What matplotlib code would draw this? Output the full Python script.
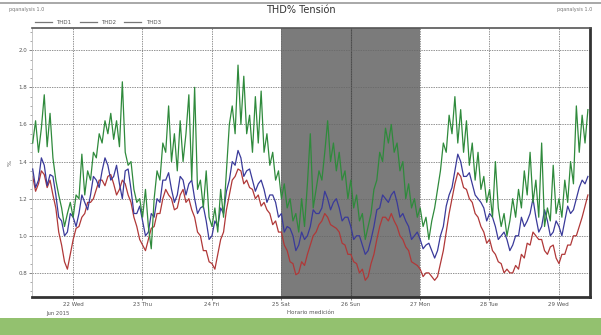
import numpy as np
import matplotlib
matplotlib.use("Agg")
import matplotlib.pyplot as plt
from matplotlib.ticker import MultipleLocator

# ---- data -------------------------------------------------------------
day_ticks = [22, 23, 24, 25, 26, 27, 28, 29]
day_labels = ["22 Wed", "23 Thu", "24 Fri", "25 Sat", "26 Sun", "27 Mon", "28 Tue", "29 Wed"]
weekend = (25, 27)
start_day = 21.42  # first sample (day of June 2015), hourly samples

# THD3 (green)
thd3 = [1.50, 1.62, 1.45, 1.58, 1.76, 1.48, 1.66, 1.42, 1.30, 1.22,
        1.15, 1.05, 1.12, 1.18, 1.10, 1.22, 1.20, 1.44, 1.22, 1.35,
        1.30, 1.45, 1.42, 1.55, 1.50, 1.62, 1.55, 1.66, 1.52, 1.62,
        1.48, 1.83, 1.45, 1.38, 1.40, 1.25, 1.18, 1.20, 1.10, 1.25,
        1.05, 0.93, 1.20, 1.35, 1.30, 1.50, 1.45, 1.70, 1.40, 1.55,
        1.35, 1.62, 1.40, 1.55, 1.76, 1.30, 1.80, 1.25, 1.30, 1.15,
        1.35, 1.10, 1.05, 1.15, 1.02, 1.25, 1.10, 1.35, 1.60, 1.70,
        1.55, 1.92, 1.60, 1.86, 1.55, 1.65, 1.45, 1.75, 1.50, 1.78,
        1.45, 1.55, 1.38, 1.45, 1.30, 1.35, 1.20, 1.28, 1.15, 1.20,
        1.08, 1.12, 1.02, 1.20, 1.05, 1.28, 1.55, 1.15, 1.25, 1.35,
        1.30, 1.45, 1.62, 1.40, 1.50, 1.35, 1.45, 1.30, 1.35, 1.20,
        1.30, 1.15, 1.22, 1.08, 1.12, 0.98, 1.05, 1.12, 1.25, 1.30,
        1.45, 1.40, 1.58, 1.50, 1.60, 1.45, 1.50, 1.35, 1.40, 1.20,
        1.28, 1.15, 1.20, 1.10, 1.15, 1.05, 1.10, 0.98, 1.08, 1.15,
        1.25, 1.35, 1.50, 1.45, 1.65, 1.55, 1.75, 1.50, 1.68, 1.45,
        1.62, 1.38, 1.50, 1.30, 1.45, 1.25, 1.32, 1.18, 1.25, 1.10,
        1.40, 1.15, 1.05, 1.12, 1.00, 1.08, 1.20, 1.10, 1.25, 1.15,
        1.35, 1.22, 1.45, 1.18, 1.30, 1.10, 1.50, 1.05, 1.15, 1.08,
        1.38, 1.12, 1.20, 1.10, 1.30, 1.18, 1.40, 1.28, 1.70, 1.45,
        1.65, 1.50, 1.68]

# THD2 (blue)
thd2 = [1.36, 1.26, 1.30, 1.42, 1.38, 1.27, 1.33, 1.32, 1.22, 1.10,
        1.08, 1.00, 1.02, 1.12, 1.10, 1.05, 1.12, 1.22, 1.18, 1.14,
        1.22, 1.32, 1.30, 1.26, 1.35, 1.42, 1.38, 1.30, 1.32, 1.38,
        1.28, 1.20, 1.35, 1.36, 1.25, 1.12, 1.12, 1.16, 1.08, 1.00,
        1.02, 1.12, 1.10, 1.20, 1.18, 1.30, 1.30, 1.34, 1.25, 1.18,
        1.22, 1.32, 1.30, 1.22, 1.28, 1.30, 1.20, 1.12, 1.15, 1.16,
        1.08, 0.98, 1.00, 1.08, 1.05, 1.15, 1.12, 1.24, 1.30, 1.40,
        1.38, 1.46, 1.42, 1.32, 1.35, 1.36, 1.30, 1.24, 1.28, 1.30,
        1.25, 1.18, 1.22, 1.22, 1.18, 1.10, 1.12, 1.02, 1.05, 1.04,
        1.00, 0.92, 0.95, 1.02, 0.98, 1.00, 1.05, 1.14, 1.12, 1.12,
        1.15, 1.24, 1.20, 1.14, 1.18, 1.20, 1.15, 1.08, 1.10, 1.10,
        1.05, 0.98, 1.00, 1.00, 0.95, 0.90, 0.92, 0.98, 1.05, 1.14,
        1.15, 1.22, 1.20, 1.18, 1.22, 1.24, 1.18, 1.10, 1.12, 1.08,
        1.05, 0.98, 1.00, 1.02, 0.98, 0.93, 0.95, 0.96, 0.92, 0.88,
        0.92, 1.00, 1.05, 1.16, 1.22, 1.26, 1.35, 1.44, 1.40, 1.32,
        1.32, 1.34, 1.28, 1.22, 1.20, 1.18, 1.15, 1.08, 1.12, 1.10,
        1.05, 0.98, 1.00, 1.02, 0.98, 0.92, 0.95, 1.00, 1.00, 1.10,
        1.05, 1.08, 1.12, 1.20, 1.10, 1.02, 1.05, 1.14, 1.08, 1.00,
        1.02, 1.08, 1.05, 1.00, 1.08, 1.16, 1.12, 1.14, 1.20, 1.26,
        1.30, 1.28, 1.32]

# THD1 (red)
thd1 = [1.32, 1.24, 1.28, 1.35, 1.33, 1.26, 1.30, 1.22, 1.15, 1.02,
        0.95, 0.86, 0.82, 0.90, 0.98, 1.04, 1.05, 1.10, 1.12, 1.18,
        1.18, 1.20, 1.25, 1.30, 1.30, 1.27, 1.32, 1.33, 1.28, 1.22,
        1.25, 1.30, 1.28, 1.22, 1.18, 1.10, 1.05, 0.98, 0.95, 0.92,
        0.98, 1.04, 1.05, 1.12, 1.12, 1.20, 1.25, 1.22, 1.20, 1.14,
        1.15, 1.22, 1.25, 1.18, 1.20, 1.14, 1.10, 1.02, 1.00, 0.92,
        0.92, 0.86, 0.85, 0.82, 0.90, 0.98, 1.02, 1.14, 1.22, 1.30,
        1.32, 1.36, 1.35, 1.28, 1.30, 1.26, 1.25, 1.20, 1.22, 1.16,
        1.18, 1.14, 1.12, 1.06, 1.08, 1.02, 1.02, 0.95, 0.92, 0.86,
        0.85, 0.79, 0.80, 0.86, 0.84, 0.90, 0.95, 1.00, 1.02, 1.06,
        1.08, 1.12, 1.10, 1.06, 1.05, 1.04, 1.02, 0.96, 0.95, 0.90,
        0.90, 0.86, 0.85, 0.80, 0.82, 0.76, 0.78, 0.85, 0.90, 0.98,
        1.05, 1.10, 1.10, 1.08, 1.12, 1.08, 1.05, 1.00, 0.98, 0.94,
        0.92, 0.86, 0.85, 0.84, 0.82, 0.78, 0.80, 0.80, 0.78, 0.76,
        0.78, 0.85, 0.92, 1.02, 1.12, 1.20, 1.28, 1.34, 1.32, 1.26,
        1.25, 1.20, 1.18, 1.12, 1.10, 1.05, 1.02, 0.96, 0.98, 0.92,
        0.90, 0.86, 0.85, 0.80, 0.82, 0.80, 0.80, 0.84, 0.82, 0.90,
        0.88, 0.96, 0.95, 1.02, 1.00, 0.98, 0.98, 0.92, 0.90, 0.94,
        0.95, 0.88, 0.85, 0.90, 0.90, 0.95, 0.95, 1.00, 1.00, 1.05,
        1.10, 1.16, 1.22]

# ---- figure -----------------------------------------------------------
fig = plt.figure(figsize=(6.01, 3.35), dpi=100)
fig.patch.set_facecolor("white")

# bottom green band
fig.patches.append(plt.Rectangle((0, 0), 1, 17 / 335, transform=fig.transFigure,
                                 facecolor="#93c16f", edgecolor="none", zorder=0))
# header line
fig.add_artist(plt.Line2D([0.0, 1.0], [1 - 3 / 335, 1 - 3 / 335], transform=fig.transFigure,
                          color="#9a9a9a", lw=1.2))

ax = fig.add_axes([32 / 601, 1 - 297 / 335, (590 - 32) / 601, (297 - 28) / 335])

t3 = start_day + np.arange(len(thd3)) / 24.0
t2 = start_day + np.arange(len(thd2)) / 24.0
t1 = start_day + np.arange(len(thd1)) / 24.0

ax.axvspan(weekend[0], weekend[1], color="#7b7b7b", zorder=0, lw=0)

ax.plot(t1, thd1, color="#b03838", lw=0.9, zorder=2, label="THD1")
ax.plot(t2, thd2, color="#3a3a9a", lw=0.9, zorder=3, label="THD2")
ax.plot(t3, thd3, color="#2f8a3c", lw=0.9, zorder=4, label="THD3")

ax.set_xlim(21.41, 29.45)
ax.set_ylim(0.67, 2.12)
ax.set_xticks(day_ticks)
ax.set_xticklabels(day_labels)
ax.yaxis.set_minor_locator(MultipleLocator(0.05))
ax.set_yticks(np.arange(0.8, 2.01, 0.2))
ax.set_yticklabels(["%.1f" % v for v in np.arange(0.8, 2.01, 0.2)])
ax.tick_params(axis="both", labelsize=4, colors="#555555", length=2, width=0.5, pad=1.5)
ax.tick_params(axis="y", which="minor", length=1.5, width=0.5, colors="#888888")
ax.grid(True, which="major", color="#666666", ls=(0, (2, 1.5)), lw=0.5, zorder=1)

ax.axvline(26, color="#4a4a4a", lw=0.8, zorder=1)

ax.spines["left"].set_color("#bbbbbb")
ax.spines["left"].set_linewidth(0.6)
ax.spines["top"].set_color("#555555")
ax.spines["top"].set_linewidth(1.2)
ax.spines["bottom"].set_color("#333333")
ax.spines["bottom"].set_linewidth(2.0)
ax.spines["right"].set_color("#333333")
ax.spines["right"].set_linewidth(2.0)

ax.set_ylabel("%", fontsize=4.5, color="#555555", labelpad=4, rotation=90)
ax.set_xlabel("Horario medición", fontsize=4, color="#555555", labelpad=2)

leg = ax.legend(loc="lower left", bbox_to_anchor=(0.0, 1.0), ncol=3, frameon=False,
                fontsize=4, handlelength=3, columnspacing=1.5, borderaxespad=0.2,
                labelcolor="#555555")
for ln in leg.get_lines():
    ln.set_color("#777777")

fig.text(0.5, 1 - 10 / 335, "THD% Tensión", ha="center", va="center",
         fontsize=7, color="#333333")
fig.text(0.015, 1 - 10 / 335, "pqanalysis 1.0", ha="left", va="center",
         fontsize=3.5, color="#777777")
fig.text(0.985, 1 - 10 / 335, "pqanalysis 1.0", ha="right", va="center",
         fontsize=3.5, color="#777777")
fig.text(58 / 601, 1 - 313 / 335, "Jun 2015", ha="center", va="center",
         fontsize=3.8, color="#555555")

fig.savefig("out.png", dpi=100, facecolor="white")
